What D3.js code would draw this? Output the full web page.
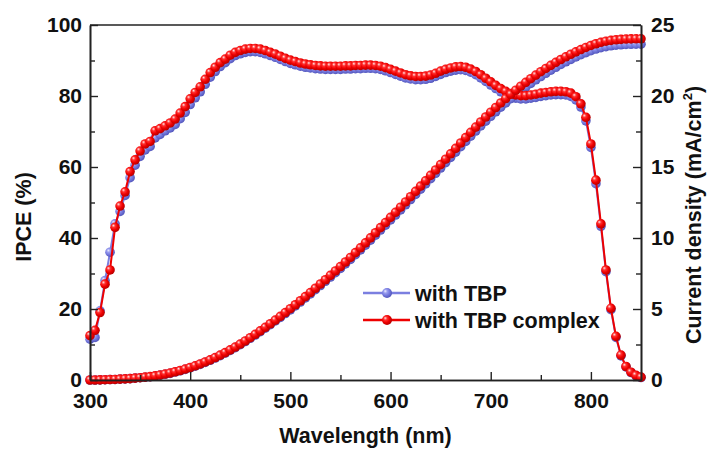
<!DOCTYPE html>
<html>
<head>
<meta charset="utf-8">
<script src="https://cdn.jsdelivr.net/npm/d3@7"></script>
<style>
  html, body { margin: 0; padding: 0; background: #fff; }
  svg text { font-family: "Liberation Sans", Arial, sans-serif; font-weight: bold; fill: #111; }
</style>
</head>
<body>
<svg id="chart" width="709" height="450"></svg>
<script>
// wavelength grid, 300..850 nm every 5 nm
var wavelength = d3.range(300, 851, 5);

// IPCE (%)
var ipceTBP = [11.5,12,19.5,28,36,44,47.5,52,57,60.5,63,64.8,65.8,68.2,69.2,70.2,71.0,72.0,73.6,75.4,
  77.6,79.5,81.2,83.3,85.3,86.9,88.3,89.4,90.5,91.4,91.9,92.3,92.5,92.5,92.3,91.9,91.4,90.9,90.3,89.7,
  89.2,88.8,88.4,88.1,87.9,87.7,87.6,87.5,87.5,87.5,87.5,87.6,87.6,87.7,87.7,87.8,87.8,87.7,87.5,87.1,
  86.6,86.1,85.6,85.1,84.8,84.6,84.6,84.7,85.0,85.5,86.1,86.6,87.0,87.3,87.4,87.2,86.7,86.0,85.1,84.1,
  83.1,82.1,81.2,80.4,79.8,79.4,79.2,79.2,79.4,79.6,79.9,80.1,80.3,80.4,80.4,80.3,79.9,78.9,76.9,73,
  65.5,55.3,43.3,30.5,19.8,12.0,6.8,3.7,2.1,1.2,0.7];
var ipceComplex = [12.5,14,19,27,31,43,49,53,58.7,62,64.5,66.5,67.2,70.2,70.8,71.6,72.4,73.5,75.2,77,
  79.2,81,82.6,84.7,86.6,88.1,89.4,90.4,91.5,92.3,92.8,93.2,93.4,93.4,93.2,92.8,92.3,91.8,91.2,90.6,
  90.1,89.7,89.3,89.0,88.8,88.6,88.5,88.4,88.4,88.4,88.4,88.5,88.5,88.6,88.6,88.7,88.7,88.6,88.4,88.0,
  87.5,87.0,86.5,86.0,85.7,85.5,85.5,85.6,85.9,86.4,87.0,87.5,87.9,88.2,88.3,88.1,87.6,86.9,86.0,85.0,
  84.0,83.0,82.1,81.3,80.7,80.3,80.1,80.1,80.3,80.5,80.8,81.0,81.2,81.3,81.3,81.2,80.8,79.8,77.8,74,
  66.5,56.3,44,31,20.2,12.3,7,3.8,2.2,1.3,0.8];

// integrated current density (mA/cm2)
var jscTBP = [0.00,0.00,0.01,0.02,0.03,0.04,0.06,0.08,0.10,0.13,0.16,0.19,0.23,0.28,0.34,0.40,0.47,0.56,0.65,0.75,
  0.86,0.97,1.10,1.24,1.39,1.55,1.72,1.90,2.08,2.28,2.49,2.71,2.94,3.17,3.41,3.65,3.90,4.16,4.41,4.68,
  4.94,5.22,5.49,5.78,6.06,6.36,6.65,6.95,7.25,7.56,7.86,8.18,8.49,8.83,9.16,9.50,9.85,10.20,10.56,10.91,
  11.27,11.62,11.98,12.34,12.71,13.07,13.44,13.81,14.18,14.56,14.93,15.31,15.68,16.05,16.43,16.80,17.17,17.53,17.89,18.23,
  18.57,18.89,19.21,19.51,19.81,20.09,20.37,20.63,20.89,21.14,21.37,21.60,21.82,22.02,22.22,22.41,22.58,22.75,22.91,23.05,
  23.19,23.31,23.41,23.48,23.54,23.58,23.61,23.63,23.64,23.65,23.65];
var jscComplex = [0.00,0.00,0.01,0.02,0.03,0.04,0.06,0.08,0.10,0.13,0.16,0.20,0.24,0.29,0.35,0.42,0.49,0.58,0.67,0.77,
  0.88,1.00,1.13,1.27,1.42,1.58,1.75,1.93,2.12,2.32,2.53,2.75,2.98,3.22,3.46,3.71,3.96,4.22,4.48,4.75,
  5.02,5.30,5.58,5.87,6.16,6.46,6.76,7.06,7.37,7.68,7.99,8.31,8.63,8.97,9.31,9.66,10.01,10.37,10.73,11.09,
  11.45,11.81,12.17,12.54,12.91,13.28,13.65,14.03,14.41,14.79,15.17,15.55,15.93,16.31,16.69,17.07,17.44,17.81,18.17,18.52,
  18.86,19.19,19.51,19.82,20.12,20.41,20.69,20.96,21.22,21.47,21.71,21.94,22.16,22.37,22.57,22.76,22.94,23.11,23.27,23.42,
  23.56,23.68,23.78,23.86,23.92,23.96,23.99,24.01,24.02,24.03,24.03];

var xTicks = [300, 400, 500, 600, 700, 800];
var xMinor = [350, 450, 550, 650, 750];
var ipceTicks = [0, 20, 40, 60, 80, 100];
var ipceMinor = [10, 30, 50, 70, 90];
var jTicks = [0, 5, 10, 15, 20, 25];
var jMinor = [2.5, 7.5, 12.5, 17.5, 22.5];
var seriesNames = ["with TBP", "with TBP complex"];

var mLeft = 90, mRight = 641, mTop = 25, mBottom = 380;
var svg = d3.select("#chart");

var x = d3.scaleLinear().domain([300, 850]).range([mLeft, mRight]);
var yL = d3.scaleLinear().domain([0, 100]).range([mBottom, mTop]);
var yR = d3.scaleLinear().domain([0, 25]).range([mBottom, mTop]);

// shiny ball gradients
var defs = svg.append("defs");
function ball(id, c0, c1, c2, c3) {
  var g = defs.append("radialGradient").attr("id", id)
    .attr("cx", "40%").attr("cy", "40%").attr("r", "60%").attr("fx", "32%").attr("fy", "30%");
  g.append("stop").attr("offset", "0%").attr("stop-color", c0);
  g.append("stop").attr("offset", "30%").attr("stop-color", c1);
  g.append("stop").attr("offset", "65%").attr("stop-color", c2);
  g.append("stop").attr("offset", "100%").attr("stop-color", c3);
}
ball("gBlue", "#f0f0ff", "#9a9ef0", "#7478dc", "#5357bd");
ball("gRed", "#ffe8e8", "#ff3030", "#ee0000", "#b80000");

var series = [
  {name: seriesNames[0], color: "#7b7fe0", grad: "url(#gBlue)", ipce: ipceTBP, jsc: jscTBP},
  {name: seriesNames[1], color: "#ee0000", grad: "url(#gRed)", ipce: ipceComplex, jsc: jscComplex}
];

var plot = svg.append("g");
series.forEach(function(s) {
  [[s.ipce, yL], [s.jsc, yR]].forEach(function(pair) {
    var vals = pair[0], y = pair[1];
    var pts = wavelength.map(function(w, i) { return [w, vals[i]]; });
    plot.append("path").datum(pts)
      .attr("fill", "none").attr("stroke", s.color).attr("stroke-width", 2)
      .attr("d", d3.line().x(function(d) { return x(d[0]); }).y(function(d) { return y(d[1]); }));
    plot.selectAll(null).data(pts).enter().append("circle")
      .attr("cx", function(d) { return x(d[0]); })
      .attr("cy", function(d) { return y(d[1]); })
      .attr("r", 4.8)
      .attr("fill", s.grad);
  });
});

// axes, ticks pointing inward
function style(g) {
  g.selectAll(".domain").attr("stroke", "#222").attr("stroke-width", 1.6);
  g.selectAll(".tick line").attr("stroke", "#222").attr("stroke-width", 1.4);
  g.selectAll("text").attr("font-size", 21).attr("fill", "#111")
    .attr("font-family", "Liberation Sans, Arial, sans-serif").attr("font-weight", "bold");
}

svg.append("g").attr("transform", "translate(0," + mBottom + ")")
  .call(d3.axisBottom(x).tickValues(xMinor).tickSize(-5).tickSizeOuter(0).tickFormat(""))
  .call(style);
svg.append("g").attr("transform", "translate(0," + mBottom + ")")
  .call(d3.axisBottom(x).tickValues(xTicks).tickSize(-8).tickSizeOuter(0).tickPadding(13).tickFormat(d3.format("d")))
  .call(style);

svg.append("g").attr("transform", "translate(" + mLeft + ",0)")
  .call(d3.axisLeft(yL).tickValues(ipceMinor).tickSize(-5).tickSizeOuter(0).tickFormat(""))
  .call(style);
svg.append("g").attr("transform", "translate(" + mLeft + ",0)")
  .call(d3.axisLeft(yL).tickValues(ipceTicks).tickSize(-8).tickSizeOuter(0).tickPadding(8).tickFormat(d3.format("d")))
  .call(style);

svg.append("g").attr("transform", "translate(" + mRight + ",0)")
  .call(d3.axisRight(yR).tickValues(jMinor).tickSize(-5).tickSizeOuter(0).tickFormat(""))
  .call(style);
svg.append("g").attr("transform", "translate(" + mRight + ",0)")
  .call(d3.axisRight(yR).tickValues(jTicks).tickSize(-8).tickSizeOuter(0).tickPadding(10).tickFormat(d3.format("d")))
  .call(style);

svg.append("line")
  .attr("x1", mLeft).attr("x2", mRight).attr("y1", mTop).attr("y2", mTop)
  .attr("stroke", "#222").attr("stroke-width", 1.6);

// axis titles
svg.append("text").attr("x", (mLeft + mRight) / 2).attr("y", 443)
  .attr("text-anchor", "middle").attr("font-size", 21.5).text("Wavelength (nm)");
svg.append("text").attr("transform", "translate(31,217) rotate(-90)")
  .attr("text-anchor", "middle").attr("font-size", 21.5).text("IPCE (%)");
var rt = svg.append("text").attr("transform", "translate(701,215) rotate(-90)")
  .attr("text-anchor", "middle").attr("font-size", 21.5);
rt.append("tspan").text("Current density (mA/cm");
rt.append("tspan").attr("font-size", 13).attr("dy", -9).text("2");
rt.append("tspan").attr("dy", 9).text(")");

// legend
var legend = svg.append("g");
series.forEach(function(s, i) {
  var ly = 293 + i * 27;
  legend.append("line").attr("x1", 363).attr("x2", 410).attr("y1", ly).attr("y2", ly)
    .attr("stroke", s.color).attr("stroke-width", 2.5);
  legend.append("circle").attr("cx", 387).attr("cy", ly).attr("r", 5).attr("fill", s.grad);
  legend.append("text").attr("x", 415).attr("y", ly + 7.7).attr("font-size", 21.5).text(s.name);
});
</script>
</body>
</html>
